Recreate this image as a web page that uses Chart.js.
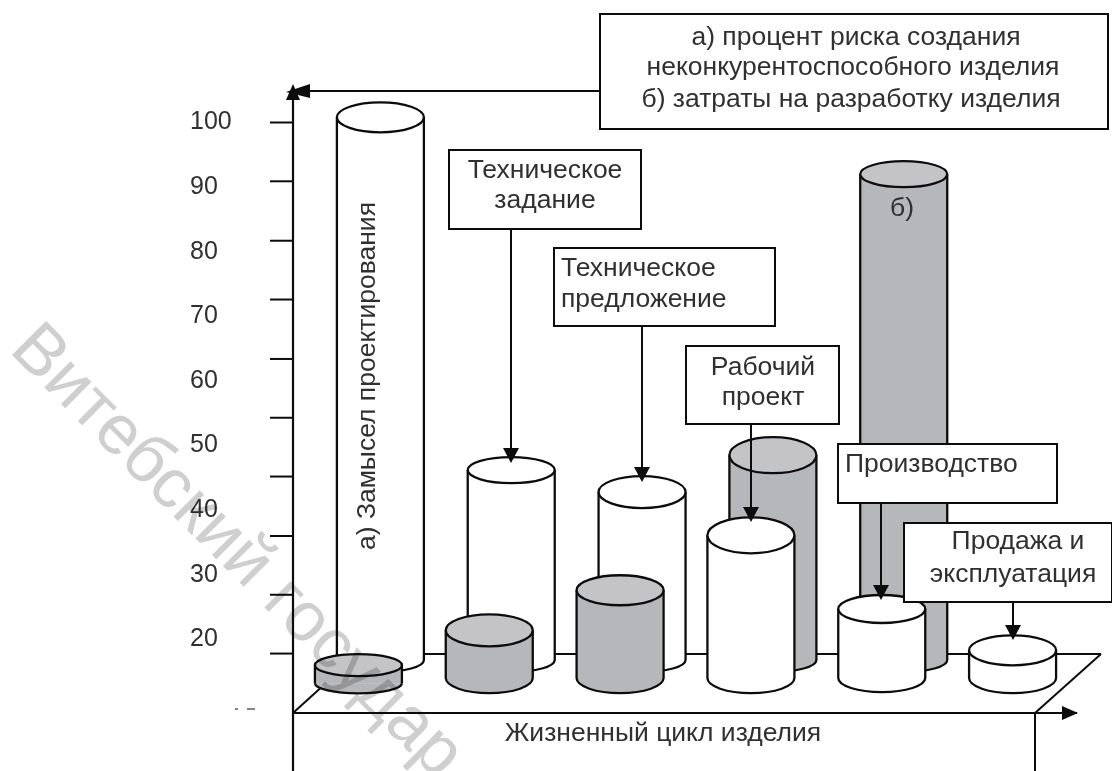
<!DOCTYPE html>
<html lang="ru">
<head>
<meta charset="utf-8">
<style>html,body{margin:0;padding:0;background:#fff}canvas{display:block}</style>
<script src="https://cdn.jsdelivr.net/npm/chart.js@4"></script>
</head>
<body>
<canvas id="c" width="1112" height="771"></canvas>
<script>
// ---- data ----
const stages = ['Замысел проектирования','Техническое задание','Техническое предложение','Рабочий проект','Производство','Продажа и эксплуатация'];
const tickLabels = [100,90,80,70,60,50,40,30,20];
const tickMarks = [100,90.9,81.7,72.6,63.4,54.3,45.2,36,26.9,17.8];
// front row of cylinders (nearer the viewer)
const frontTops = [16.0,21.4,27.6,36.1,24.7,18.3];
const frontBases = [13.2,14,14,14,14,14];
// rear row of cylinders
const rearTops = [100.8,46.2,42.8,48.5,92.0];
const rearBases = [16.8,16.8,16.8,16.8,16.8];

// ---- styles ----
const WHITE='#ffffff', GRAY='#b6b7ba', GRAYTOP='#c4c4c6', INK='#0c0c0c', TEXT='#303030';
const frontColors=[GRAY,GRAY,GRAY,WHITE,WHITE,WHITE];
const rearColors=[WHITE,WHITE,WHITE,GRAY,GRAY];
const frontTopRy=[11,16,15,18,14,15], frontBottomRy=[10,15,15,15,14,15];
const rearTopRy=[15,13,16,18,13], rearBottomRy=[12,12,12,12,12];
const FONT='"Liberation Sans", Arial, sans-serif';

const styles=[
 {colors:frontColors,topRy:frontTopRy,botRy:frontBottomRy},
 {colors:rearColors,topRy:rearTopRy,botRy:rearBottomRy}
];

function line(ctx,x1,y1,x2,y2,w){ctx.lineWidth=w||2;ctx.beginPath();ctx.moveTo(x1,y1);ctx.lineTo(x2,y2);ctx.stroke();}
function tri(ctx,pts){ctx.beginPath();ctx.moveTo(pts[0],pts[1]);ctx.lineTo(pts[2],pts[3]);ctx.lineTo(pts[4],pts[5]);ctx.closePath();ctx.fill();}
function label(ctx,t,x,y,size,align){ctx.font=size+'px '+FONT;ctx.textAlign=align||'center';ctx.textBaseline='alphabetic';ctx.fillStyle=TEXT;ctx.fillText(t,x,y);}

const cylinderPlugin={
 id:'cylinders',
 beforeDatasetsDraw(chart){
  const ctx=chart.ctx,a=chart.chartArea;
  ctx.save();ctx.strokeStyle=INK;ctx.fillStyle=INK;
  // value axis extended, with its tick marks
  line(ctx,a.left,92,a.left,771,2.2);
  tickMarks.forEach(v=>{const y=chart.scales.y.getPixelForValue(v);line(ctx,270,y,a.left,y,2);});
  // floor
  line(ctx,a.left,a.bottom,a.right-1,a.bottom,2);
  tri(ctx,[a.right,a.bottom,a.right-16,a.bottom-7,a.right-16,a.bottom+7]);
  line(ctx,a.left,a.bottom,358,654,2);
  line(ctx,358,654,1101,654,2);
  line(ctx,1101,654,1035,a.bottom,2);
  line(ctx,1035,a.bottom,1035,771,2);
  // top arrows and legend leader
  line(ctx,600,91,300,91,2);
  tri(ctx,[293,84,286,100,300,100]);
  tri(ctx,[286,92,310,84,310,98]);
  // specks
  line(ctx,235,709,238,709,1);line(ctx,247,709,255,709,1);
  ctx.restore();
 },
 afterDatasetDraw(chart,args){
  const st=styles[args.index];if(!st)return;
  const ctx=chart.ctx,meta=args.meta;
  ctx.save();ctx.strokeStyle=INK;ctx.lineWidth=2.3;
  meta.data.forEach((el,i)=>{
   const l=el.x-el.width/2,r=el.x+el.width/2,top=el.y,base=el.base,rx=el.width/2;
   const col=st.colors[i];
   ctx.fillStyle=col;
   ctx.lineWidth=2.3;
   ctx.beginPath();ctx.ellipse(el.x,base,rx,st.botRy[i],0,0,Math.PI);ctx.fill();ctx.stroke();
   line(ctx,l,top,l,base,2.3);line(ctx,r,top,r,base,2.3);
   ctx.fillStyle=col===GRAY?GRAYTOP:WHITE;
   ctx.lineWidth=2.3;
   ctx.beginPath();ctx.ellipse(el.x,top,rx,st.topRy[i],0,0,Math.PI*2);ctx.fill();ctx.stroke();
  });
  ctx.restore();
 },
 afterDatasetsDraw(chart){
  const ctx=chart.ctx;
  ctx.save();ctx.strokeStyle=INK;ctx.fillStyle=INK;
  const box=(x1,y1,x2,y2)=>{ctx.fillStyle='#fff';ctx.fillRect(x1,y1,x2-x1,y2-y1);ctx.lineWidth=2;ctx.strokeRect(x1,y1,x2-x1,y2-y1);ctx.fillStyle=INK;};
  const arrow=(x,y1,y2)=>{line(ctx,x,y1,x,y2-6,2);tri(ctx,[x,y2,x-8,y2-15,x+8,y2-15]);};
  // arrows first
  arrow(511,229,463);arrow(642,326,482);arrow(751,424,522);arrow(881,503,600);arrow(1013,602,640);
  // callout boxes
  box(600,14,1108,129);
  box(449,150,641,229);
  box(554,248,775,326);
  box(686,346,839,424);
  box(838,444,1057,503);
  box(904,523,1112,602);
  const S=26.5;
  label(ctx,'а) процент риска создания',856,45,S);
  label(ctx,'неконкурентоспособного изделия',853,75,S);
  label(ctx,'б) затраты на разработку изделия',851,107,S);
  label(ctx,'Техническое',545,178,S);
  label(ctx,'задание',545,208,S);
  label(ctx,'Техническое',561,276,S,'left');
  label(ctx,'предложение',561,307,S,'left');
  label(ctx,'Рабочий',763,375,S);
  label(ctx,'проект',763,405,S);
  label(ctx,'Производство',845,472,S,'left');
  label(ctx,'Продажа и',1018,549,S);
  label(ctx,'эксплуатация',1013,582,S);
  label(ctx,'Жизненный цикл изделия',663,741,S);
  label(ctx,'б)',902,216,S);
  // rotated series label inside the first rear cylinder
  ctx.save();ctx.translate(375,376);ctx.rotate(-Math.PI/2);
  label(ctx,'а) Замысел проектирования',0,0,S);
  ctx.restore();
  // watermark
  ctx.save();ctx.globalCompositeOperation='multiply';
  ctx.translate(8,351);ctx.rotate(45*Math.PI/180);
  ctx.font='70px '+FONT;ctx.fillStyle='#cfcfcf';ctx.textAlign='left';ctx.textBaseline='alphabetic';
  ctx.fillText('Витебский государ',0,0);
  ctx.restore();
  ctx.restore();
 }
};

new Chart(document.getElementById('c'),{
 type:'bar',
 plugins:[cylinderPlugin],
 data:{
  datasets:[
   {label:'Передний ряд',xAxisID:'x',yAxisID:'y',clip:false,grouped:false,barThickness:87,
    backgroundColor:frontColors,borderWidth:0,
    data:frontTops.map((t,i)=>({x:i,y:[frontBases[i],t]}))},
   {label:'Задний ряд',xAxisID:'xRear',yAxisID:'y',clip:false,grouped:false,barThickness:87,
    backgroundColor:rearColors,borderWidth:0,
    data:rearTops.map((t,i)=>({x:i,y:[rearBases[i],t]}))}
  ]
 },
 options:{
  responsive:false,animation:false,
  layout:{autoPadding:false,padding:{left:190,top:122.5,right:34,bottom:58}},
  plugins:{legend:{display:false},title:{display:false},tooltip:{enabled:false}},
  scales:{
   x:{type:'linear',display:false,offset:false,min:-0.5,max:5.5,grid:{display:false}},
   xRear:{type:'linear',display:false,offset:false,min:-0.668,max:5.332,grid:{display:false}},
   y:{type:'linear',position:'left',min:8.6,max:100,
    afterFit(s){s.width=103;},
    afterBuildTicks(s){s.ticks=tickLabels.map(v=>({value:v}));},
    grid:{display:false,drawTicks:false},
    border:{display:false},
    ticks:{crossAlign:'far',padding:0,autoSkip:false,color:TEXT,font:{family:FONT,size:25}}
   }
  }
 }
});
</script>
</body>
</html>
